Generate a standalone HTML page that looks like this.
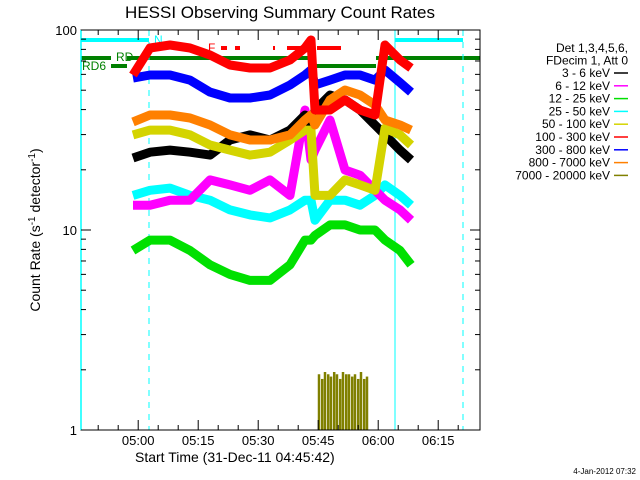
<!DOCTYPE html>
<html><head><meta charset="utf-8"><style>
body{margin:0;background:#fff;}
svg{display:block;font-family:"Liberation Sans",sans-serif;}
</style></head><body>
<svg id="chart" width="640" height="480">
<rect width="640" height="480" fill="#fff"/>
<text x="280" y="18" font-size="17" text-anchor="middle">HESSI Observing Summary Count Rates</text>
<g id="flags"></g>
<g id="series"></g>
<g id="axes"></g>
<g id="legend" font-size="12"></g>
<text x="135" y="462" font-size="14" text-anchor="start">Start Time (31-Dec-11 04:45:42)</text>
<text transform="translate(40,230) rotate(-90)" font-size="14" text-anchor="middle">Count Rate (s<tspan dy="-5" font-size="10">-1</tspan><tspan dy="5"> detector</tspan><tspan dy="-5" font-size="10">-1</tspan><tspan dy="5">)</tspan></text>
<text x="636" y="474" font-size="8" text-anchor="end">4-Jan-2012 07:32</text>
</svg>
<script>
const times=[13,17.25,22.25,27.25,32.25,37.25,42.25,47.25,52.25,56,57.5,58.5,62.25,66,69.75,73.5,76,79.75,82.5];
const red=[59.6,81.3,84.1,81.3,75,66.8,64.6,64.6,70.8,81.3,89.1,39.8,39.8,44.7,39.8,37.6,84.1,70.8,64.6];
const blue=[57.5,59.6,59.6,56.2,48.9,45.7,45.7,47.3,53.1,59.6,63.1,53.1,56.2,59.6,59.6,56.2,63.1,54.6,48.9];
const orange=[34.7,37.6,37.6,36.3,33.5,29.9,28.2,28.2,29.9,35.5,37.6,33.5,44.7,50.1,47.3,42.2,35.5,33.5,31.6];
const yellow=[29.9,31.6,31.6,29.9,26.6,25.1,23.7,24.5,28.2,31.6,31.6,14.9,14.9,17.8,16.8,15.8,32.3,29.9,26.6];
const black=[22.9,24.5,25.1,24.5,23.7,28.2,29.9,28.2,31.6,37.6,33.5,39.8,47.3,44.7,39.8,33.5,29.9,25.1,22.4];
const magenta=[13.3,13.3,14.1,14.1,17.8,16.8,15.8,17.8,14.9,39.8,22.4,25.1,35.5,19.95,18.8,15.8,14.1,12.6,11.2];
const cyan=[14.9,15.8,16.2,14.9,14.1,12.6,11.9,11.5,12.6,14.1,14.1,11.2,14.1,14.1,13.3,14.9,16.8,14.9,13.3];
const green=[7.9,8.9,8.9,7.9,6.7,6.0,5.6,5.6,6.7,8.9,8.9,9.4,10.6,10.6,10,10,8.9,7.9,6.7];
const oliveTimes=[59.5,60.3,61,61.8,62.5,63.3,64,64.8,65.5,66.3,67,67.8,68.5,69.3,70,70.8,71.5];
const oliveVals=[1.9,1.8,1.95,1.9,1.85,1.95,1.9,1.8,1.95,1.9,1.9,1.85,1.9,1.8,1.95,1.8,1.85];
const xTickLabels=["05:00","05:15","05:30","05:45","06:00","06:15"];
const yTickLabels=["1","10","100"];
const legendLabels=["3 - 6 keV","6 - 12 keV","12 - 25 keV","25 - 50 keV","50 - 100 keV","100 - 300 keV","300 - 800 keV","800 - 7000 keV","7000 - 20000 keV"];
const legendColors=["#000","#ff00ff","#00e000","#00ffff","#d4d400","#ff0000","#0000ff","#ff8000","#808000"];

const NS="http://www.w3.org/2000/svg";
const X0=81,X1=480,Y0=30,Y1=430;
function xs(t){return X0+t*4;}
function ys(v){return Y1-Math.log10(v)*200;}
function mk(tag,attrs,parent){const e=document.createElementNS(NS,tag);for(const k in attrs)e.setAttribute(k,attrs[k]);parent.appendChild(e);return e;}
const series=document.getElementById('series'),axes=document.getElementById('axes'),legend=document.getElementById('legend'),flags=document.getElementById('flags');

[[81,149,40,"#00ffff"],[395,463,40,"#00ffff"],[81,111,58,"#008000"],[127,312,58,"#008000"],[376,480,58,"#008000"],[111,127,66,"#008000"],[312,376,66,"#008000"],
 [221,227,48,"#ff0000"],[235,240,48,"#ff0000"],[273,275,48,"#ff0000"],[287,302,48,"#ff0000"],[317,341,48,"#ff0000"]].forEach(f=>{
  const l=mk('line',{x1:f[0],x2:f[1],y1:f[2],y2:f[2],stroke:f[3],'stroke-width':4},flags);
  
  
});
[[82,70,"RD6","#008000"],[116,61,"RD","#008000"],[154,44,"N","#00ffff"],[208,52,"F","#ff0000"]].forEach(f=>{
  const t=mk('text',{x:f[0],y:f[1],fill:f[3],'font-size':12},flags);t.textContent=f[2];
  
  
});
[149,463].forEach(x=>{const l=mk('line',{x1:x,x2:x,y1:Y0,y2:Y1,stroke:"#00ffff",'stroke-dasharray':"6,6"},flags);
  
  });
{const l=mk('line',{x1:395,x2:395,y1:Y0,y2:Y1,stroke:"#00ffff"},flags);
  
  }

const drawOrder=[[green,"#00e000","series-12-25kev"],[cyan,"#00ffff","series-25-50kev"],[magenta,"#ff00ff","series-6-12kev"],[black,"#000","series-3-6kev"],[yellow,"#d4d400","series-50-100kev"],[orange,"#ff8000","series-800-7000kev"],[blue,"#0000ff","series-300-800kev"],[red,"#ff0000","series-100-300kev"]];
drawOrder.forEach(s=>{
  const pts=times.map((t,i)=>xs(t).toFixed(1)+","+ys(s[0][i]).toFixed(1)).join(" ");
  const p=mk('polyline',{points:pts,fill:"none",stroke:s[1],'stroke-width':9,'stroke-linejoin':"round"},series);
  
  
});
oliveTimes.forEach((t,i)=>{
  const l=mk('line',{x1:xs(t),x2:xs(t),y1:Y1,y2:ys(oliveVals[i]),stroke:"#808000",'stroke-width':2.5},series);
  
  
});

{const r=mk('rect',{x:X0,y:Y0,width:X1-X0,height:Y1-Y0,fill:"none",stroke:"#000"},axes);

}
{const l=mk('line',{x1:X0,x2:X0,y1:Y0,y2:Y1,stroke:"#00ffff",'stroke-width':1.5},axes);

}
for(let k=-2;k<=16;k++){
  const t=14.3+k*5; if(t<0||t*4>X1-X0)continue;
  const major=k%3===0; const len=major?10:5; const x=xs(t);
  const a=mk('line',{x1:x,x2:x,y1:Y1,y2:Y1-len,stroke:"#000"},axes);
  
  
  const b=mk('line',{x1:x,x2:x,y1:Y0,y2:Y0+len,stroke:"#000"},axes);
  
  
  if(major&&k/3>=0&&k/3<xTickLabels.length){
    const tx=mk('text',{x:x,y:445,'font-size':13,'text-anchor':"middle"},axes);tx.textContent=xTickLabels[k/3];
    
    
  }
}
for(let d=0;d<=2;d++){
  for(let m=1;m<=9;m++){
    if(d===2&&m>1)break;
    const v=m*Math.pow(10,d),y=ys(v),len=m===1?10:5;
    const a=mk('line',{x1:X0,x2:X0+len,y1:y,y2:y,stroke:"#000"},axes);
    
    
    const b=mk('line',{x1:X1,x2:X1-len,y1:y,y2:y,stroke:"#000"},axes);
    
    
    if(m===1){const tx=mk('text',{x:X0-4,y:y+5,'font-size':13,'text-anchor':"end"},axes);tx.textContent=yTickLabels[d];
      
      }
  }
}
[["Det 1,3,4,5,6,",0],["FDecim 1, Att 0",12.5]].forEach(h=>{
  const t=mk('text',{x:628,y:52+h[1],'text-anchor':"end"},legend);t.textContent=h[0];
  
  
});
legendLabels.forEach((lab,i)=>{
  const y=77+i*12.8;
  const t=mk('text',{x:610,y:y,'text-anchor':"end"},legend);t.textContent=lab;
  
  
  const l=mk('line',{x1:614,x2:628,y1:y-4,y2:y-4,stroke:legendColors[i],'stroke-width':1.5},legend);
  
  
});
</script>
</body></html>
